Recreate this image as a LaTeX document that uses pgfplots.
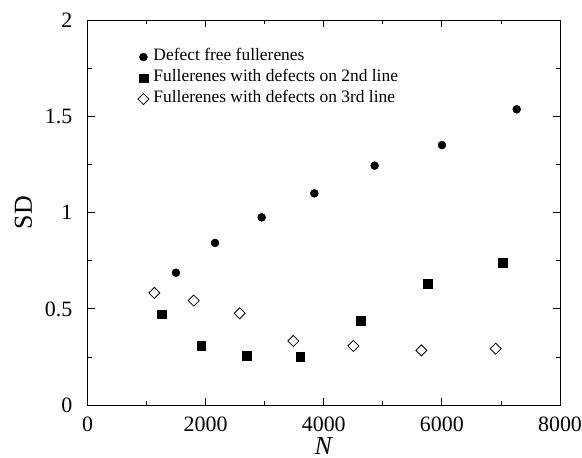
\documentclass[border=0pt]{standalone}
\usepackage{pgfplots}
\pgfplotsset{compat=1.18}
\usepackage{fontspec}
\setmainfont{Liberation Serif}
\begin{document}
\begin{tikzpicture}
\begin{axis}[
  scale only axis,
  width=472.5bp, height=384.5bp,
  xmin=0, xmax=8000, ymin=0, ymax=2,
  xtick={0,2000,4000,6000,8000},
  minor xtick={1000,3000,5000,7000},
  ytick={0,0.5,1,1.5,2},
  minor ytick={0.25,0.75,1.25,1.75},
  tick align=inside,
  major tick length=7bp, minor tick length=4bp,
  tick style={black, line width=0.8pt},
  axis line style={line width=0.9pt},
  scaled x ticks=false,
  /pgf/number format/assume math mode=true,
  /pgf/number format/set thousands separator={},
  tick label style={font=\fontsize{22}{24}\selectfont},
  xticklabel style={anchor=base, inner sep=0pt, yshift=-26.7bp},
  yticklabel style={anchor=east, inner sep=0pt, xshift=-15bp},
  xlabel={\textit{N}},
  ylabel={SD},
  label style={font=\fontsize{26}{28}\selectfont},
  xlabel style={at={(axis description cs:0.5,0)}, anchor=base, inner sep=0pt, yshift=-49bp},
  ylabel style={at={(axis description cs:0,0.5)}, anchor=base, inner sep=0pt, yshift=55.5bp},
  legend cell align=left,
  legend style={draw=none, fill=none, at={(0.1,0.932)}, anchor=north west,
    font=\fontsize{17.5}{19}\selectfont,
    nodes={inner sep=1bp, text height=11bp, text depth=3.5bp},
    row sep=4.5bp, column sep=3.5bp},
  legend image code/.code={\draw[#1] plot coordinates {(0bp,0bp)};},
]
\addplot[only marks, mark=*, mark size=4bp, black] coordinates {
(1498,0.688) (2159,0.843) (2949,0.976) (3841,1.101) (4862,1.245) (6002,1.352) (7267,1.538)};
\addlegendentry{Defect free fullerenes}
\addplot[only marks, mark=square*, mark size=4.3bp, black] coordinates {
(1261,0.473) (1922,0.307) (2695,0.255) (3604,0.250) (4625,0.439) (5765,0.631) (7029,0.740)};
\addlegendentry{Fullerenes with defects on 2nd line}
\addplot[only marks, mark=square, mark size=3.9bp, black, mark options={rotate=45, line width=0.8pt}] coordinates {
(1132,0.583) (1798,0.543) (2577,0.477) (3485,0.333) (4501,0.307) (5653,0.284) (6911,0.293)};
\addlegendentry{Fullerenes with defects on 3rd line}
\end{axis}
\pgfresetboundingbox
\useasboundingbox (-87.5bp,-53bp) rectangle (494.5bp,405bp);
\end{tikzpicture}
\end{document}
